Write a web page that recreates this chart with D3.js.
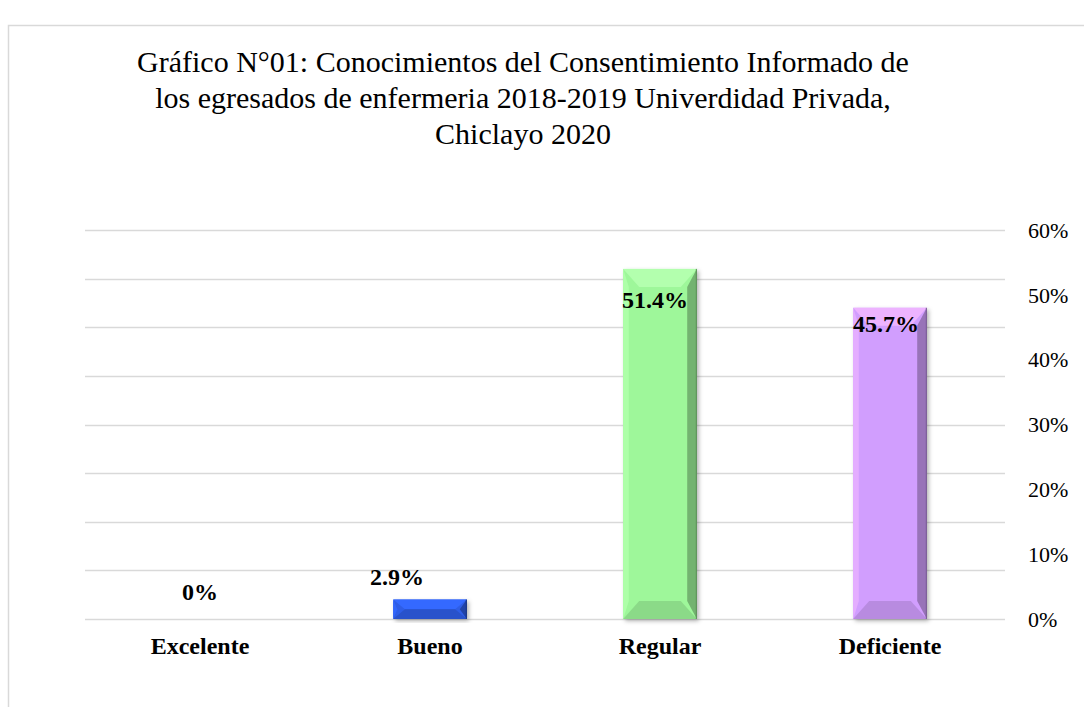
<!DOCTYPE html>
<html>
<head>
<meta charset="utf-8">
<script src="https://cdn.jsdelivr.net/npm/d3@7"></script>
<style>
  html, body { margin: 0; padding: 0; background: #ffffff; }
  svg { display: block; }
</style>
</head>
<body>
<svg id="chart" width="1084" height="707"></svg>
<script>
// ---------- data ----------
const titleLines = [
  "Gráfico N°01: Conocimientos del Consentimiento Informado de",
  "los egresados de enfermeria 2018-2019 Univerdidad Privada,",
  "Chiclayo 2020"
];
const categories = ["Excelente", "Bueno", "Regular", "Deficiente"];
const counts = [0, 1, 18, 16];                 // bar heights (n = 35)
const valueLabels = ["0%", "2.9%", "51.4%", "45.7%"];
const barColors = ["#2e5de6", "#2e5de6", "#9ef79a", "#d19efe"];
const gridTicks = [0, 2.5, 5, 7.5, 10, 12.5, 15, 17.5, 20];
const pctTicks = [0, 0.1, 0.2, 0.3, 0.4, 0.5, 0.6];
const pctTickLabels = ["0%", "10%", "20%", "30%", "40%", "50%", "60%"];
// manual label placement (layout, dx / dy from bar top)
const labelDx = [0, -33, -5, -4];
const labelDy = [-19, -15, 39, 24];

// ---------- layout ----------
const svg = d3.select("#chart");
const W = 1084, H = 707;
const plot = { left: 85, right: 1005, top: 230, bottom: 619 };

// chart border
svg.append("path")
  .attr("d", `M8.5,${H + 2} L8.5,25.5 L${W + 2},25.5`)
  .attr("fill", "none").attr("stroke", "#d9d9d9").attr("stroke-width", 1.5);

// title
svg.append("g").selectAll("text").data(titleLines).join("text")
  .attr("x", 523).attr("y", (d, i) => 72 + i * 36)
  .attr("text-anchor", "middle")
  .attr("font-family", "'Liberation Serif', 'Times New Roman', serif")
  .attr("font-size", 30).attr("fill", "#000")
  .text(d => d);

const x = d3.scaleBand().domain(categories).range([plot.left, plot.right]).paddingInner(0.68).paddingOuter(0.34);
const y = d3.scaleLinear().domain([0, 20]).range([plot.bottom, plot.top]);
const yPct = d3.scaleLinear().domain([0, 0.6]).range([plot.bottom, plot.top]);

// gridlines
svg.append("g").selectAll("line").data(gridTicks).join("line")
  .attr("x1", plot.left).attr("x2", plot.right)
  .attr("y1", d => Math.round(y(d)) + 0.5).attr("y2", d => Math.round(y(d)) + 0.5)
  .attr("stroke", "#d9d9d9").attr("stroke-width", 1.5);

// right axis labels (percent)
const yAxis = d3.axisRight(yPct).tickValues(pctTicks).tickFormat((d, i) => pctTickLabels[i]).tickSize(0).tickPadding(0);
const ax = svg.append("g").attr("transform", `translate(1028,0)`).call(yAxis);
ax.select(".domain").remove();
ax.selectAll("text")
  .attr("font-family", "'Liberation Serif', 'Times New Roman', serif")
  .attr("font-size", 22).attr("fill", "#000").attr("dy", "0.33em");

// shadow filter
const defs = svg.append("defs");
const f = defs.append("filter").attr("id", "shadow").attr("x", "-20%").attr("y", "-20%").attr("width", "140%").attr("height", "140%");
f.append("feDropShadow").attr("dx", 2).attr("dy", 2).attr("stdDeviation", 2)
  .attr("flood-color", "#000").attr("flood-opacity", 0.3);

// bars with bevel
const bars = svg.append("g");
counts.forEach((v, i) => {
  if (v <= 0) return;
  const x0 = x(categories[i]), x1 = x0 + x.bandwidth();
  const y0 = y(v), y1 = y(0);
  const h = y1 - y0, w = x1 - x0;
  const bv = Math.min(18, h / 2), bh = Math.min(16, w / 2, bv * 1.2);
  const base = d3.color(barColors[i]);
  const g = bars.append("g");
  g.append("rect").attr("x", x0).attr("y", y0).attr("width", w).attr("height", h)
    .attr("fill", base.formatHex()).attr("filter", "url(#shadow)");
  const poly = (pts, fill) => g.append("polygon").attr("points", pts.map(p => p.join(",")).join(" ")).attr("fill", fill);
  // left facet
  poly([[x0, y0], [x0 + bh * 0.35, y0 + bv], [x0 + bh * 0.35, y1 - bv], [x0, y1]], d3.color(barColors[i]).brighter(0.25).formatHex());
  // right facet
  poly([[x1, y0], [x1 - bh * 0.6, y0 + bv], [x1 - bh * 0.6, y1 - bv], [x1, y1]], d3.color(barColors[i]).darker(0.9).formatHex());
  // top facet
  poly([[x0, y0], [x1, y0], [x1 - bh, y0 + bv], [x0 + bh, y0 + bv]], d3.color(barColors[i]).brighter(0.35).formatHex());
  // bottom facet
  poly([[x0, y1], [x1, y1], [x1 - bh, y1 - bv], [x0 + bh, y1 - bv]], d3.color(barColors[i]).darker(0.35).formatHex());
  // right edge line
  g.append("line").attr("x1", x1 - 0.5).attr("x2", x1 - 0.5).attr("y1", y0).attr("y2", y1)
    .attr("stroke", d3.color(barColors[i]).darker(1.6).formatHex()).attr("stroke-width", 1);
});

// value labels
svg.append("g").selectAll("text").data(counts).join("text")
  .attr("x", (d, i) => x(categories[i]) + x.bandwidth() / 2 + labelDx[i])
  .attr("y", (d, i) => y(d) + labelDy[i])
  .attr("text-anchor", "middle")
  .attr("font-family", "'Liberation Serif', 'Times New Roman', serif")
  .attr("font-weight", "bold").attr("font-size", 24).attr("fill", "#000")
  .text((d, i) => valueLabels[i]);

// category labels
const xAxis = d3.axisBottom(x).tickSize(0).tickPadding(0);
const bx = svg.append("g").attr("transform", `translate(0,${plot.bottom})`).call(xAxis);
bx.select(".domain").remove();
bx.selectAll("text")
  .attr("font-family", "'Liberation Serif', 'Times New Roman', serif")
  .attr("font-weight", "bold").attr("font-size", 24).attr("fill", "#000")
  .attr("dy", 0).attr("y", 35);
</script>
</body>
</html>
